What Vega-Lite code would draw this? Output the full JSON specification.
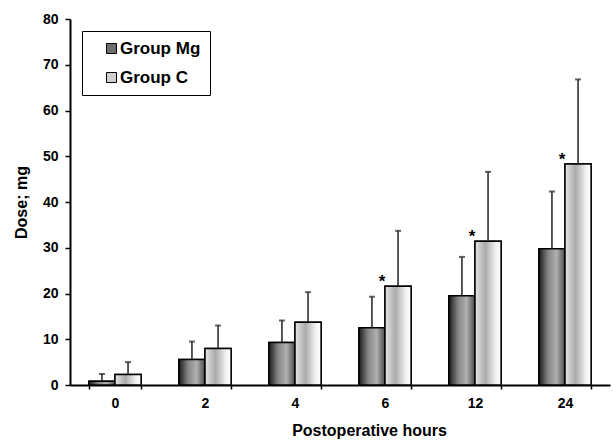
{
  "$schema": "https://vega.github.io/schema/vega-lite/v6.json",
  "width": 540,
  "height": 366,
  "autosize": {"type": "none"},
  "padding": {"left": 70, "top": 19, "right": 3, "bottom": 56},
  "background": "white",
  "config": {
    "view": {"stroke": null},
    "font": "Liberation Sans",
    "axis": {"labelFont": "Liberation Sans", "titleFont": "Liberation Sans", "labelFontWeight": "bold", "titleFontWeight": "bold", "labelColor": "black", "titleColor": "black", "domainColor": "black", "tickColor": "black", "grid": false}
  },
  "data": {
    "values": [
      {"hour": "0", "group": "Group Mg", "mean": 0.8, "upper": 2.4, "sig": ""},
      {"hour": "0", "group": "Group C", "mean": 2.3, "upper": 5.0, "sig": ""},
      {"hour": "2", "group": "Group Mg", "mean": 5.6, "upper": 9.5, "sig": ""},
      {"hour": "2", "group": "Group C", "mean": 8.0, "upper": 13.0, "sig": ""},
      {"hour": "4", "group": "Group Mg", "mean": 9.3, "upper": 14.1, "sig": ""},
      {"hour": "4", "group": "Group C", "mean": 13.7, "upper": 20.3, "sig": ""},
      {"hour": "6", "group": "Group Mg", "mean": 12.5, "upper": 19.3, "sig": ""},
      {"hour": "6", "group": "Group C", "mean": 21.6, "upper": 33.7, "sig": "*"},
      {"hour": "12", "group": "Group Mg", "mean": 19.5, "upper": 28.0, "sig": ""},
      {"hour": "12", "group": "Group C", "mean": 31.4, "upper": 46.6, "sig": "*"},
      {"hour": "24", "group": "Group Mg", "mean": 29.8, "upper": 42.3, "sig": ""},
      {"hour": "24", "group": "Group C", "mean": 48.3, "upper": 66.8, "sig": "*"}
    ]
  },
  "encoding": {
    "x": {
      "field": "hour", "type": "nominal", "sort": ["0", "2", "4", "6", "12", "24"],
      "scale": {"paddingInner": 0.42, "paddingOuter": 0.21},
      "axis": {"title": "Postoperative hours", "titleX": 299, "labelAngle": 0, "labelFontSize": 14, "titleFontSize": 16, "domainWidth": 2, "tickBand": "extent", "tickSize": 4, "tickWidth": 1.5, "labelPadding": 7, "titlePadding": 12}
    },
    "xOffset": {"field": "group", "type": "nominal", "sort": ["Group Mg", "Group C"], "scale": {"domain": ["Group Mg", "Group C"], "paddingInner": 0, "paddingOuter": 0}}
  },
  "layer": [
    {
      "mark": {"type": "bar", "stroke": "black", "strokeWidth": 1.5},
      "encoding": {
        "y": {
          "field": "mean", "type": "quantitative",
          "scale": {"domain": [0, 80], "nice": false},
          "axis": {"title": "Dose; mg", "values": [0, 10, 20, 30, 40, 50, 60, 70, 80], "labelFontSize": 14, "titleFontSize": 16, "domainWidth": 2, "tickSize": 5, "tickWidth": 1.5, "labelPadding": 7, "titlePadding": 13}
        },
        "fill": {
          "field": "group", "type": "nominal", "sort": ["Group Mg", "Group C"],
          "scale": {"domain": ["Group Mg", "Group C"], "range": ["#6e6e6e", "#d0d0d0"]},
          "legend": {
            "title": null, "orient": "none", "legendX": 12, "legendY": 12,
            "strokeColor": "black", "padding": 9,
            "symbolOffset": 12, "symbolType": "square", "symbolSize": 100,
            "symbolStrokeColor": "black", "symbolStrokeWidth": 1,
            "labelFont": "Liberation Sans", "labelFontWeight": "bold", "labelFontSize": 17, "labelColor": "black",
            "labelOffset": 0, "rowPadding": 11, "fillColor": "white"
          }
        }
      }
    },
    {
      "transform": [{"filter": "datum.group === 'Group Mg'"}],
      "mark": {"type": "bar", "stroke": "black", "strokeWidth": 1.5, "color": {"gradient": "linear", "x1": 0, "y1": 0, "x2": 1, "y2": 0, "stops": [
        {"offset": 0, "color": "#1a1a1a"},
        {"offset": 0.35, "color": "#858585"},
        {"offset": 0.68, "color": "#b0b0b0"},
        {"offset": 1, "color": "#4a4a4a"}
      ]}},
      "encoding": {"y": {"field": "mean", "type": "quantitative"}}
    },
    {
      "transform": [{"filter": "datum.group === 'Group C'"}],
      "mark": {"type": "bar", "stroke": "black", "strokeWidth": 1.5, "color": {"gradient": "linear", "x1": 0, "y1": 0, "x2": 1, "y2": 0, "stops": [
        {"offset": 0, "color": "#e6e6e6"},
        {"offset": 0.4, "color": "#ababab"},
        {"offset": 0.8, "color": "#f2f2f2"},
        {"offset": 1, "color": "#ffffff"}
      ]}},
      "encoding": {"y": {"field": "mean", "type": "quantitative"}}
    },
    {
      "mark": {"type": "rule", "color": "#222", "strokeWidth": 1.5},
      "encoding": {"y": {"field": "mean", "type": "quantitative"}, "y2": {"field": "upper"}}
    },
    {
      "mark": {"type": "tick", "color": "#222", "size": 6, "thickness": 2},
      "encoding": {"y": {"field": "upper", "type": "quantitative"}}
    },
    {
      "mark": {"type": "text", "font": "Liberation Sans", "fontWeight": "bold", "fontSize": 17, "baseline": "bottom", "dx": -16, "dy": 5, "color": "black"},
      "encoding": {"y": {"field": "mean", "type": "quantitative"}, "text": {"field": "sig"}}
    }
  ]
}
